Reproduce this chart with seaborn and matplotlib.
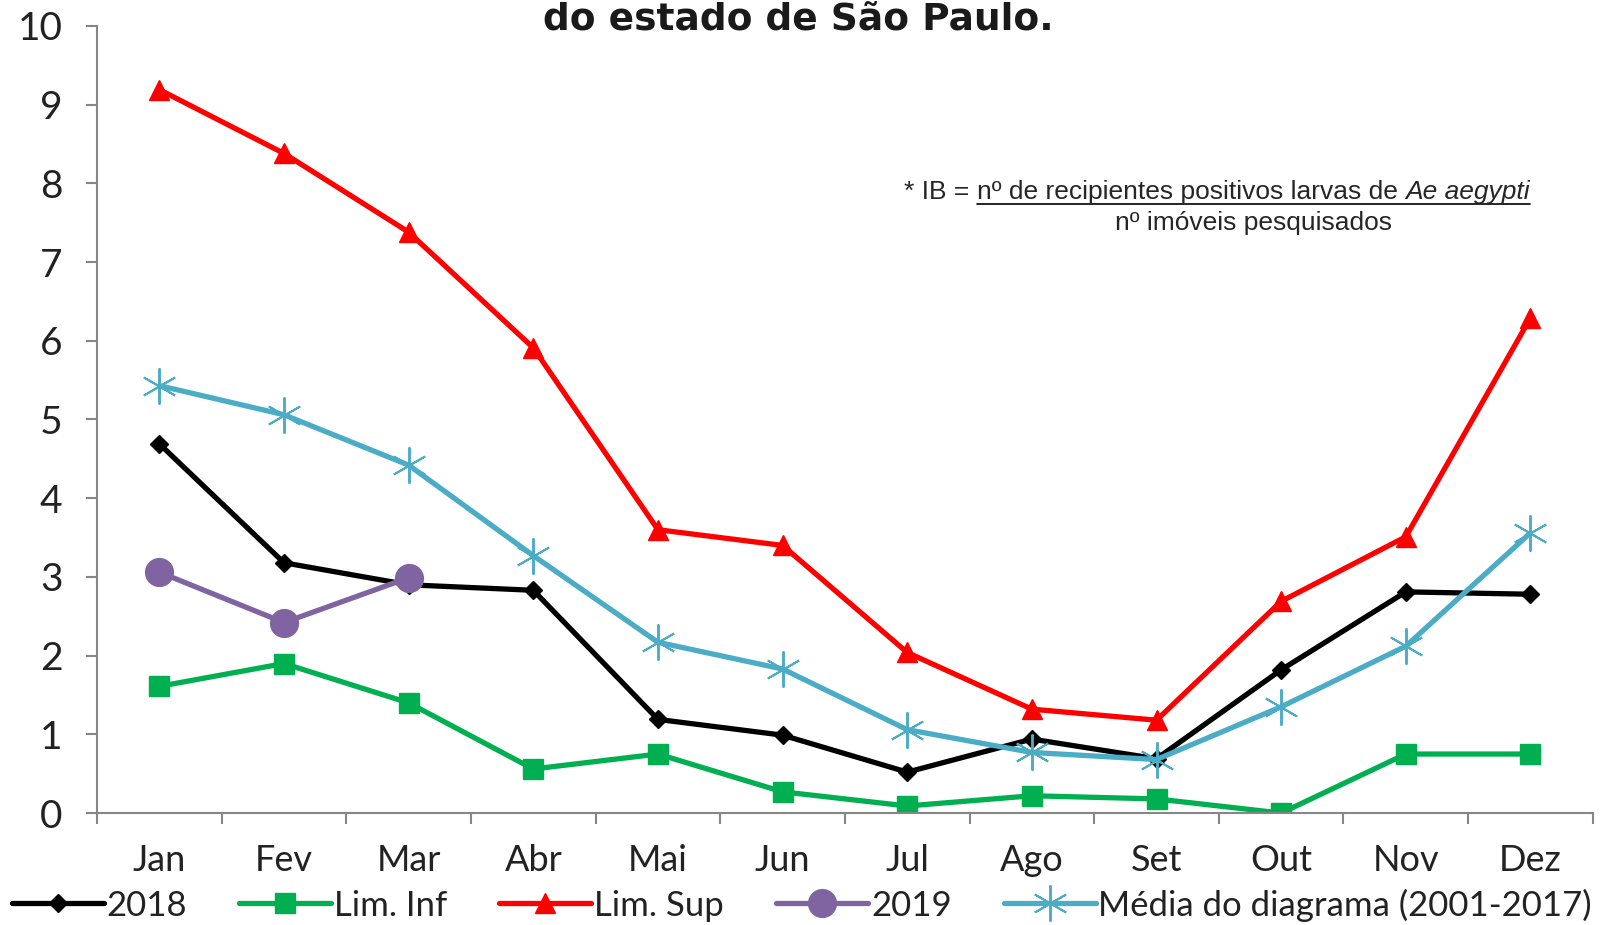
import numpy as np
import pandas as pd
import seaborn as sns
import matplotlib.pyplot as plt
from matplotlib.lines import Line2D

# data
meses = ["Jan", "Fev", "Mar", "Abr", "Mai", "Jun", "Jul", "Ago", "Set", "Out", "Nov", "Dez"]
ib_2018 = [4.69, 3.18, 2.90, 2.83, 1.19, 0.99, 0.52, 0.94, 0.69, 1.82, 2.81, 2.78]
lim_inf = [1.61, 1.90, 1.40, 0.56, 0.75, 0.27, 0.09, 0.22, 0.18, 0.00, 0.75, 0.75]
lim_sup = [9.19, 8.38, 7.38, 5.91, 3.60, 3.40, 2.04, 1.32, 1.18, 2.69, 3.51, 6.29]
ib_2019 = [3.06, 2.42, 2.99]
media = [5.43, 5.06, 4.42, 3.27, 2.17, 1.83, 1.06, 0.77, 0.68, 1.35, 2.12, 3.56]

sns.set_theme(style="white")
plt.rcParams['font.family'] = ['Lato', 'DejaVu Sans']
narrow = ['Liberation Sans Narrow', 'Liberation Sans', 'DejaVu Sans']

fig = plt.figure(figsize=(16.04, 9.25), dpi=100)
ax = fig.add_axes([0.0605, 0.121, 0.9325, 0.851])

series = [
    ("2018", ib_2018, "black", "D", 9, 1),
    ("Lim. Inf", lim_inf, "#00B050", "s", 14, 1),
    ("Lim. Sup", lim_sup, "#FF0000", "^", 14, 1),
    ("2019", ib_2019, "#8064A2", "o", 20, 1),
    ("Média do diagrama (2001-2017)", media, "#4BACC6", (6, 2, 0), 26, 1.4),
]

for name, vals, col, mk, ms, mew in series:
    df = pd.DataFrame({"x": np.arange(len(vals)), "y": vals})
    sns.lineplot(data=df, x="x", y="y", ax=ax, color=col, linewidth=3.8,
                 marker=mk, markersize=ms, markeredgewidth=mew,
                 markeredgecolor=col, markerfacecolor=col, label=name, legend=False)

ax.set_xlim(-0.5, 11.5)
ax.set_ylim(0, 10)
ax.set_yticks(range(0, 11))
ax.set_xticks(range(12))
ax.set_xticklabels(meses)
ax.set_xticks(np.arange(-0.5, 12, 1), minor=True)
ax.set_xlabel("")
ax.set_ylabel("")
for s in ["top", "right"]:
    ax.spines[s].set_visible(False)
for s in ["left", "bottom"]:
    ax.spines[s].set_color("#868686")
    ax.spines[s].set_linewidth(1.5)
ax.tick_params(axis="y", which="major", left=True, length=8, width=1.5, color="#868686",
               labelsize=28, pad=17, labelcolor="#222222")
ax.tick_params(axis="x", which="major", bottom=False, labelsize=26, pad=16, labelcolor="#222222")
ax.tick_params(axis="x", which="minor", bottom=True, length=8, width=1.5, color="#868686")

# title (only its last line is visible in the reference)
fig.text(0.498, 1 - 30 / 925, "do estado de São Paulo.", ha="center", va="baseline",
         fontsize=27, fontweight="bold", family=["DejaVu Sans"], color="#1a1a1a")

# IB formula annotation
fig.canvas.draw()
r = fig.canvas.get_renderer()
y1 = 1 - 199 / 925
x0 = 904 / 1604
fs = 19
t1 = fig.text(x0, y1, "* IB = ", fontsize=fs, va="baseline", family=narrow)
w1 = t1.get_window_extent(r).width / fig.bbox.width
t2 = fig.text(x0 + w1, y1, "nº de recipientes positivos larvas de ", fontsize=fs,
              va="baseline", family=narrow)
w2 = t2.get_window_extent(r).width / fig.bbox.width
t3 = fig.text(x0 + w1 + w2, y1, "Ae aegypti", fontsize=fs, va="baseline", style="italic",
              family=narrow)
w3 = t3.get_window_extent(r).width / fig.bbox.width
uy = y1 - 5 / 925
fig.add_artist(Line2D([x0 + w1, x0 + w1 + w2 + w3], [uy, uy], color="black", lw=1.2,
                      transform=fig.transFigure))
fig.text(x0 + w1 + (w2 + w3) / 2, 1 - 230 / 925, "nº imóveis pesquisados",
         fontsize=fs, va="baseline", ha="center", family=narrow)

handles, labels = ax.get_legend_handles_labels()
fig.legend(handles, labels, loc="lower center", bbox_to_anchor=(0.5, -0.03), ncol=5,
           frameon=False, fontsize=25, handlelength=2.65, columnspacing=1.5,
           handletextpad=0.08, labelcolor="#222222")

fig.savefig("out.png", dpi=100, facecolor="white")
